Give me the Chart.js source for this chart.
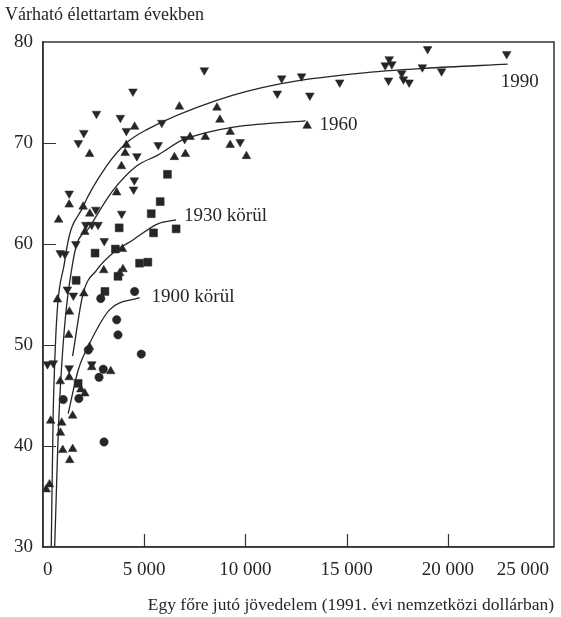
<!DOCTYPE html>
<html><head><meta charset="utf-8">
<script src="https://cdn.jsdelivr.net/npm/chart.js@4"></script>
<style>html,body{margin:0;padding:0;background:#fff}</style>
</head><body>
<canvas id="c" width="561" height="617" style="display:block"></canvas>
<script>
// ---- text ----
const yTitle = 'Várható élettartam években';
const xTitle = 'Egy főre jutó jövedelem (1991. évi nemzetközi dollárban)';
const yTicks = [30, 40, 50, 60, 70, 80];
const xTicks = [0, 5000, 10000, 15000, 20000, 25000];
const curveLabels = ['1990', '1960', '1930 körül', '1900 körül'];

// ---- 1990 (▼) ----
const down1990X = [4443,2642,3823,2017,1747,4118,5692,7001,4640,4512,4477,3887,1294,2608,2116,2411,2721,1624,3026,851,1082,1205,1501,221,507,1294,2411,5870,7970,11793,12777,14662,11577,13186,9742,19006,22912,17107,16910,17235,18745,19695,17072,17727,17810,18091];
const down1990Y = [75.1,72.9,72.5,71.0,70.0,71.2,69.8,70.4,68.7,66.3,65.4,63.0,65.0,63.4,61.9,61.9,61.9,60.0,60.3,59.1,59.0,55.5,54.9,48.1,48.2,47.7,48.1,72.0,77.2,76.4,76.6,76.0,74.9,74.7,70.1,79.3,78.8,78.3,77.7,77.8,77.5,77.1,76.2,76.9,76.3,76.0];

// ---- 1960 (▲) ----
const up1960X = [4526,6740,7267,4118,4059,2303,6494,7036,3877,3641,1294,772,1983,2312,2066,3921,3001,3951,3788,713,2017,1304,1269,2298,2411,3346,1294,851,1870,2066,379,925,1466,861,974,1466,1319,320,157,8595,8743,8020,9250,9250,10052,13053];
const up1960Y = [71.6,73.6,70.6,69.8,69.0,68.9,68.6,68.9,67.7,65.1,63.9,62.4,63.7,63.0,61.2,59.5,57.4,57.5,57.1,54.5,55.1,53.3,51.0,49.8,47.8,47.4,46.8,46.4,45.6,45.2,42.5,42.3,43.0,41.3,39.6,39.7,38.6,36.2,35.7,73.5,72.3,70.6,71.1,69.8,68.7,71.7];

// ---- 1930 körül (■) ----
const sq1930X = [6150,5791,5348,3764,5461,6578,2573,3577,4772,5181,3705,1638,3060,1737];
const sq1930Y = [66.9,64.2,63.0,61.6,61.1,61.5,59.1,59.5,58.1,58.2,56.8,56.4,55.3,46.2];

// ---- 1900 körül (●) ----
const dot1900X = [2854,4526,3641,3705,2239,4856,2977,2770,999,1771,3016];
const dot1900Y = [54.6,55.3,52.5,51.0,49.5,49.1,47.6,46.8,44.6,44.7,40.4];

// ---- fitted curves ----
const curve1990X = [408,507,1082,1983,3134,4118,5102,8546,11823,15596,18878,22960];
const curve1990Y = [30.0,43.6,58.4,63.7,67.7,70.0,71.3,74.2,75.9,76.9,77.4,77.8];
const curve1960X = [576,802,1491,2312,3459,4610,5673,6903,9200,12974];
const curve1960Y = [30.0,43.6,58.4,61.7,65.3,67.7,68.8,70.3,71.5,72.2];
const curve1930X = [1461,1983,2642,3459,4443,5673,6578];
const curve1930Y = [48.9,55.1,57.4,59.1,60.4,62.0,62.4];
const curve1900X = [1245,1737,2312,3296,4772];
const curve1900Y = [43.2,47.5,50.2,53.5,54.7];

const pts = (xs, ys) => xs.map((x, i) => ({x, y: ys[i]}));
const INK = '#262626';
const AXIS = '#333333';
const FONT = "'Liberation Serif', 'DejaVu Serif', serif";
const fmt = v => String(v).replace(/\B(?=(\d{3})+(?!\d))/g, ' ');

const curveDs = (xs, ys) => ({
  type: 'line', data: pts(xs, ys), showLine: true, borderColor: INK, borderWidth: 1.3,
  pointRadius: 0, fill: false, cubicInterpolationMode: 'monotone'
});
const markDs = (xs, ys, style, r, rot) => ({
  type: 'scatter', data: pts(xs, ys), pointStyle: style, pointRadius: r, pointHoverRadius: r,
  rotation: rot || 0, backgroundColor: INK, borderColor: INK, borderWidth: 0.5
});

const decor = {
  id: 'decor',
  afterDatasetsDraw(chart) {
    const {ctx, chartArea: a, scales: {x, y}} = chart;
    ctx.save();
    ctx.strokeStyle = AXIS; ctx.lineWidth = 1.5;
    ctx.strokeRect(a.left, a.top, a.right - a.left, a.bottom - a.top);
    ctx.beginPath();
    yTicks.filter(v => v > y.min && v < y.max).forEach(v => {
      const p = Math.round(y.getPixelForValue(v)) + 0.5;
      ctx.moveTo(a.left, p); ctx.lineTo(a.left + 13, p);
    });
    xTicks.filter(v => v > x.min && v < xTicks[xTicks.length - 1]).forEach(v => {
      const p = Math.round(x.getPixelForValue(v)) + 0.5;
      ctx.moveTo(p, a.bottom); ctx.lineTo(p, a.bottom - 13);
    });
    ctx.lineWidth = 1.2; ctx.stroke();
    // curve labels next to the curve ends
    ctx.fillStyle = INK; ctx.font = '19px ' + FONT; ctx.textBaseline = 'middle'; ctx.textAlign = 'left';
    const ends = [[curve1990X, curve1990Y, -7, 18], [curve1960X, curve1960Y, 14, 4],
                  [curve1930X, curve1930Y, 8, -4], [curve1900X, curve1900Y, 12, -1]];
    ends.forEach(([xs, ys, dx, dy], i) => {
      const px = x.getPixelForValue(xs[xs.length - 1]);
      const py = y.getPixelForValue(ys[ys.length - 1]);
      ctx.fillText(curveLabels[i], px + dx, py + dy);
    });
    ctx.restore();
  }
};

new Chart(document.getElementById('c'), {
  type: 'scatter',
  data: {
    datasets: [
      curveDs(curve1990X, curve1990Y),
      curveDs(curve1960X, curve1960Y),
      curveDs(curve1930X, curve1930Y),
      curveDs(curve1900X, curve1900Y),
      markDs(down1990X, down1990Y, 'triangle', 5, 180),
      markDs(up1960X, up1960Y, 'triangle', 5, 0),
      markDs(sq1930X, sq1930Y, 'rect', 5.6, 0),
      markDs(dot1900X, dot1900Y, 'circle', 4.2, 0)
    ]
  },
  options: {
    responsive: false, animation: false, devicePixelRatio: 1,
    layout: {padding: {left: 5, right: 3, top: 0, bottom: 0}},
    plugins: {
      legend: {display: false}, tooltip: {enabled: false},
      title: {display: true, text: yTitle, align: 'start', color: INK,
              font: {family: FONT, size: 18, weight: 'normal'}, padding: {top: 4, bottom: 16.4}}
    },
    scales: {
      x: {
        type: 'linear', min: 0, max: 25250,
        afterBuildTicks: s => { s.ticks = xTicks.map(v => ({value: v})); },
        afterFit: s => { s.height = 70; },
        ticks: {callback: v => fmt(v), color: INK, font: {family: FONT, size: 19}, padding: 12, align: 'inner', maxRotation: 0},
        grid: {display: true, drawOnChartArea: false, drawTicks: false},
        border: {display: true, color: AXIS, width: 1.5},
        title: {display: true, text: xTitle, align: 'end', color: INK,
                font: {family: FONT, size: 17.5, weight: 'normal'}, padding: {top: 0, bottom: 1}}
      },
      y: {
        type: 'linear', min: 30, max: 80,
        afterBuildTicks: s => { s.ticks = yTicks.map(v => ({value: v})); },
        afterFit: s => { s.width = 38; },
        ticks: {color: INK, font: {family: FONT, size: 19}, padding: 10},
        grid: {display: true, drawOnChartArea: false, drawTicks: false},
        border: {display: true, color: AXIS, width: 1.5}
      }
    }
  },
  plugins: [decor]
});
</script>
</body></html>
